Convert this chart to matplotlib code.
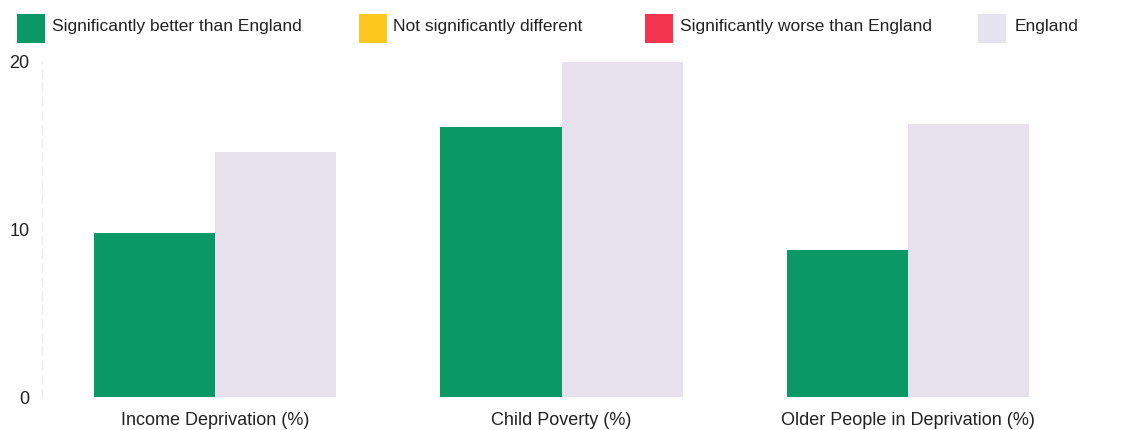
import numpy as np
import matplotlib.pyplot as plt
from matplotlib.patches import Rectangle

plt.rcParams['font.family'] = ['Liberation Sans', 'DejaVu Sans']

# indicator values (%)
categories = ['Income Deprivation (%)', 'Child Poverty (%)', 'Older People in Deprivation (%)']
area_values = [9.8, 16.1, 8.8]
england_values = [14.6, 20.0, 16.3]
legend_labels = ['Significantly better than England', 'Not significantly different',
                 'Significantly worse than England', 'England']

green = '#0a9866'
yellow = '#fdc81e'
red = '#f5344f'
england = '#e6e1ed'
text_col = '#222222'

W, H = 1130, 430
fig = plt.figure(figsize=(W / 100, H / 100), dpi=100)

# axes placed in pixel terms: x from 42 to 1081, y=0 at 397, y=20 at 62
ax = fig.add_axes([42 / W, (H - 397) / H, (1081 - 42) / W, (397 - 62) / H])

x = np.arange(len(categories))
bw = 0.35
ax.bar(x - bw / 2, area_values, width=bw, color=green, linewidth=0)
ax.bar(x + bw / 2, england_values, width=bw, color=england, linewidth=0)

ax.set_xlim(-0.5, 2.5)
ax.set_ylim(0, 20)
ax.set_yticks([0, 10, 20])
ax.set_xticks(x)
ax.set_xticklabels(categories)
ax.tick_params(axis='both', length=0, labelsize=13, colors=text_col)
ax.tick_params(axis='x', pad=11)
ax.tick_params(axis='y', pad=9)

for s in ['top', 'right', 'bottom']:
    ax.spines[s].set_visible(False)
ax.spines['left'].set_color('#ececf2')
ax.spines['left'].set_linestyle((0, (6, 4)))
ax.spines['left'].set_linewidth(1)

# legend row across the top
sq_x = [17, 359, 645, 978]
txt_x = [52, 393, 680, 1015]
colors = [green, yellow, red, '#e4e3ef']
for sx, tx, c, lab in zip(sq_x, txt_x, colors, legend_labels):
    fig.add_artist(Rectangle((sx / W, (H - 43) / H), 28 / W, 29 / H,
                             transform=fig.transFigure, color=c, linewidth=0))
    fig.text(tx / W, (H - 27) / H, lab, fontsize=12.5, color=text_col,
             va='center', ha='left')

fig.savefig('out.png', dpi=100)
